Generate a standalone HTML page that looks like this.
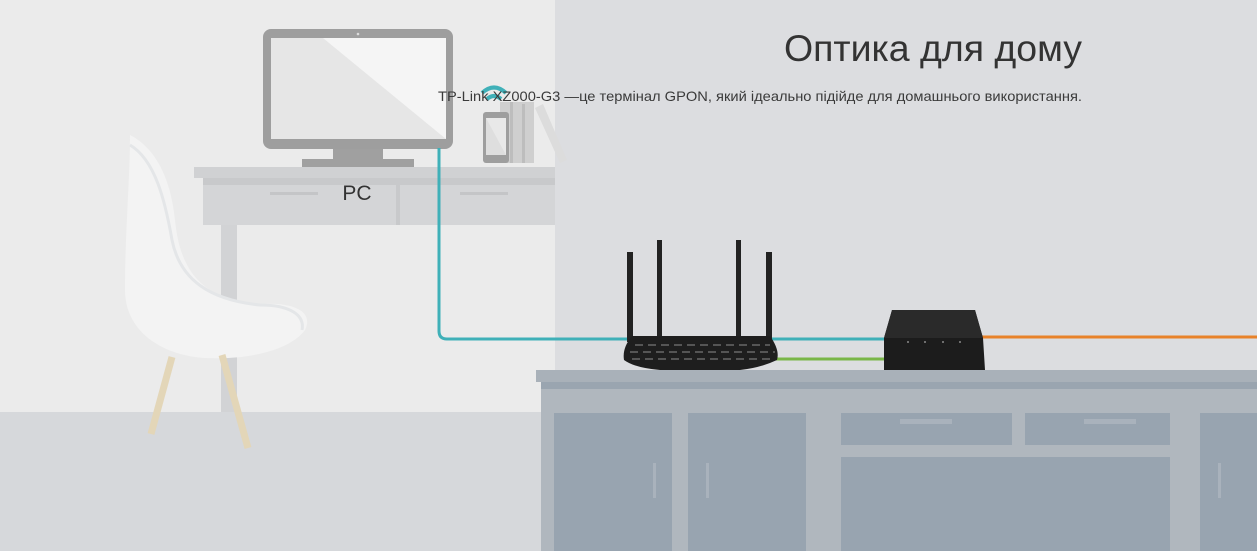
<!DOCTYPE html>
<html><head><meta charset="utf-8"><style>
html,body{margin:0;padding:0;width:1257px;height:551px;overflow:hidden;background:#dcdde0}
svg{display:block}
.t{font-family:"Liberation Sans",sans-serif}
</style></head><body>
<svg width="1257" height="551" viewBox="0 0 1257 551" xmlns="http://www.w3.org/2000/svg">
<rect x="0" y="0" width="1257" height="551" fill="#dcdde0"/>
<rect x="0" y="0" width="555" height="412" fill="#ebebeb"/>
<rect x="0" y="412" width="555" height="139" fill="#d6d8db"/>
<!-- desk -->
<rect x="221" y="220" width="16" height="192" fill="#d2d3d5"/>
<rect x="194" y="167" width="361" height="11" fill="#d0d1d3"/>
<rect x="203" y="178" width="352" height="7" fill="#c8c9cb"/>
<rect x="203" y="185" width="352" height="40" fill="#d4d5d7"/>
<rect x="396" y="185" width="4" height="40" fill="#c8c9cb"/>
<rect x="270" y="192" width="48" height="3" fill="#c4c5c7"/>
<rect x="460" y="192" width="48" height="3" fill="#c4c5c7"/>
<!-- chair -->
<path d="M130 135 C 150 145, 170 170, 175 220 C 180 270, 200 295, 250 305 C 290 300, 315 310, 305 330 C 290 350, 250 360, 205 358 C 160 355, 125 330, 125 290 C 125 230, 130 180, 130 135 Z" fill="#f3f3f3"/>
<path d="M130 145 C 155 160, 165 200, 172 240 C 180 280, 210 300, 260 305 C 290 305, 305 315, 302 330" fill="none" stroke="#e4e6e8" stroke-width="3"/>
<line x1="172" y1="357" x2="151" y2="434" stroke="#e3d6b8" stroke-width="7"/>
<line x1="222" y1="355" x2="248" y2="448" stroke="#e3d6b8" stroke-width="7"/>
<!-- monitor -->
<rect x="333" y="146" width="50" height="14" fill="#a0a0a0"/>
<rect x="302" y="159" width="112" height="8" fill="#a0a0a0"/>
<rect x="263" y="29" width="190" height="120" rx="8" fill="#9e9e9e"/>
<rect x="271" y="38" width="175" height="101" fill="#e6e6e6"/>
<polygon points="323,38 446,38 446,139" fill="#f5f5f5"/>
<circle cx="358" cy="34" r="1.3" fill="#ddd"/>
<text x="357" y="200" class="t" font-size="21" fill="#333" text-anchor="middle">PC</text>
<!-- books and phone -->
<rect x="500" y="102" width="34" height="61" fill="#cfcfcf"/>
<rect x="510" y="102" width="3" height="61" fill="#bdbdbd"/>
<rect x="522" y="104" width="3" height="59" fill="#bdbdbd"/>
<polygon points="535,108 543,104 567,160 560,163" fill="#dcdcdc"/>
<rect x="483" y="112" width="26" height="51" rx="3" fill="#9e9e9e"/>
<rect x="486" y="118" width="20" height="37" fill="#e8e8e8"/>
<polygon points="486,118 506,155 486,155" fill="#dedede"/>
<path d="M482 93 Q494 82 506 93" fill="none" stroke="#3fb0b8" stroke-width="4"/>
<path d="M487 99 Q494 93 501 99" fill="none" stroke="#3fb0b8" stroke-width="4"/>
<!-- cables -->
<path d="M439 148 L439 331 Q439 339 447 339 L886 339" fill="none" stroke="#3fb0b8" stroke-width="3"/>
<line x1="770" y1="359" x2="886" y2="359" stroke="#7ab648" stroke-width="3"/>
<line x1="982" y1="337" x2="1257" y2="337" stroke="#e8822a" stroke-width="3"/>
<!-- router -->
<rect x="627" y="252" width="6" height="90" fill="#222"/>
<rect x="657" y="240" width="5" height="100" fill="#222"/>
<rect x="736" y="240" width="5" height="100" fill="#222"/>
<rect x="766" y="252" width="6" height="90" fill="#222"/>
<path d="M632 336 L770 336 Q780 350 777 360 Q760 368 740 370 L660 370 Q635 368 624 360 Q622 348 632 336 Z" fill="#1e1e1e"/>
<path d="M635 345 L770 345 M630 352 L775 352 M632 359 L772 359" stroke="#555" stroke-width="2" stroke-dasharray="8 5"/>
<!-- ONU -->
<polygon points="892,310 975,310 983,338 985,370 884,370 884,338" fill="#1c1c1c"/>
<polygon points="892,310 975,310 983,338 884,338" fill="#2a2a2a"/>
<circle cx="908" cy="342" r="1" fill="#888"/><circle cx="925" cy="342" r="1" fill="#888"/><circle cx="943" cy="342" r="1" fill="#888"/><circle cx="960" cy="342" r="1" fill="#888"/>
<!-- counter -->
<rect x="536" y="370" width="721" height="12" fill="#a9b1b9"/>
<rect x="541" y="382" width="716" height="7" fill="#9aa5b0"/>
<rect x="541" y="389" width="716" height="162" fill="#b0b7be"/>
<rect x="554" y="413" width="118" height="138" fill="#98a4b0"/>
<rect x="688" y="413" width="118" height="138" fill="#98a4b0"/>
<rect x="841" y="413" width="171" height="32" fill="#98a4b0"/>
<rect x="1025" y="413" width="145" height="32" fill="#98a4b0"/>
<rect x="841" y="457" width="329" height="94" fill="#98a4b0"/>
<rect x="1200" y="413" width="57" height="138" fill="#98a4b0"/>
<rect x="653" y="463" width="3" height="35" fill="#a9b2bc"/>
<rect x="706" y="463" width="3" height="35" fill="#a9b2bc"/>
<rect x="1218" y="463" width="3" height="35" fill="#a9b2bc"/>
<rect x="900" y="419" width="52" height="5" fill="#a9b2bc"/>
<rect x="1084" y="419" width="52" height="5" fill="#a9b2bc"/>
<!-- text -->
<text x="784" y="61" class="t" font-size="37" fill="#333" textLength="298" lengthAdjust="spacingAndGlyphs">Оптика для дому</text>
<text x="438" y="101" class="t" font-size="14" fill="#3a3a3a" textLength="644" lengthAdjust="spacingAndGlyphs">TP-Link XZ000-G3 —це термінал GPON, який ідеально підійде для домашнього використання.</text>
</svg>
</body></html>
